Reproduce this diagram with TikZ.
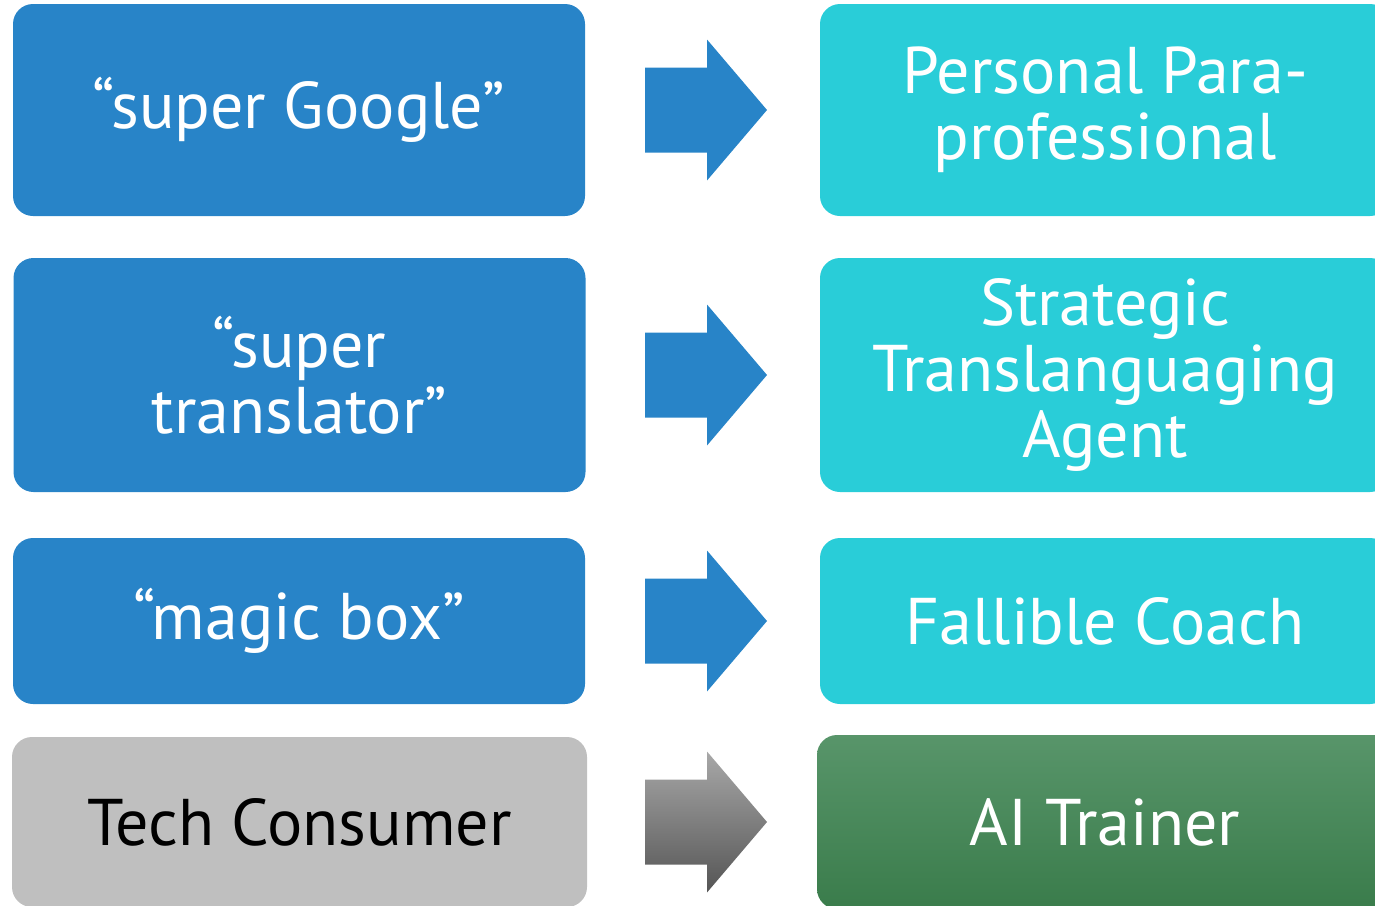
\documentclass[tikz,border=0pt]{standalone}
\usepackage{fontspec}
\setmainfont{PT Sans}
\definecolor{lblue}{HTML}{2884C8}
\definecolor{lcyan}{HTML}{29CDD8}
\definecolor{lgray}{HTML}{BFBFBF}
\definecolor{gtop}{HTML}{58956A}
\definecolor{gbot}{HTML}{3A7C4B}
\definecolor{atop}{HTML}{A8A8A8}
\definecolor{abot}{HTML}{555555}
\begin{document}
\begin{tikzpicture}[x=1pt,y=-1pt,
  box/.style={rectangle, rounded corners=20pt, inner sep=0pt, align=center,
    text=white, font=\fontsize{66}{66}\selectfont},
  leftbox/.style={box, fill=lblue, minimum width=572pt},
  rightbox/.style={box, fill=lcyan, minimum width=570pt},
  blockarrow/.pic={\path[pic actions] (-61,-42.5) -- (1,-42.5) -- (1,-70.5) -- (61,0) -- (1,70.5) -- (1,42.5) -- (-61,42.5) -- cycle;}
]
\useasboundingbox (0,0) rectangle (1375,905);
\clip (0,0) rectangle (1375,905);
% left column
\node[leftbox, minimum height=212pt] (l1) at (299,110) {“super Google”};
\node[leftbox, minimum height=234pt] (l2) at (299.5,375) {“super\\translator”};
\node[leftbox, minimum height=166pt] (l3) at (299,621) {“magic box”};
\node[box, fill=lgray, text=black, minimum width=575pt, minimum height=170pt] (l4) at (299.5,822) {Tech Consumer};
% right column
\node[rightbox, minimum height=212pt] (r1) at (1105,110) {Personal Para-\\professional};
\node[rightbox, minimum height=234pt] (r2) at (1105,375) {Strategic\\Translanguaging\\Agent};
\node[rightbox, minimum height=166pt] (r3) at (1105,621) {Fallible Coach};
\node[box, top color=gtop, bottom color=gbot, minimum width=576pt, minimum height=174pt] (r4) at (1105,822) {AI Trainer};
% arrows
\pic[fill=lblue] (a1) at (706,110) {blockarrow};
\pic[fill=lblue] (a2) at (706,375) {blockarrow};
\pic[fill=lblue] (a3) at (706,621) {blockarrow};
\pic[top color=atop, bottom color=abot] (a4) at (706,822) {blockarrow};
\end{tikzpicture}
\end{document}
